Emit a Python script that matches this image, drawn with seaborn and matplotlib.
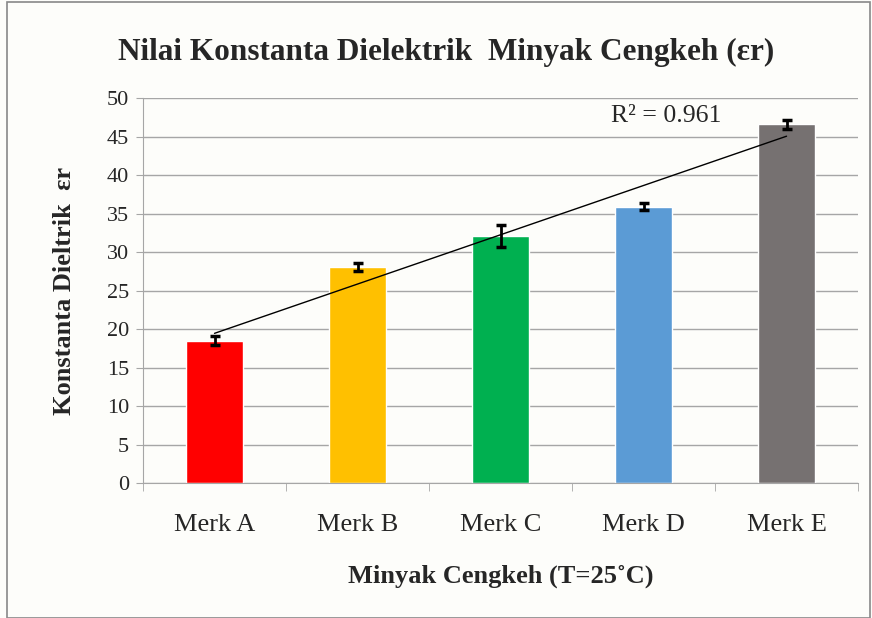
import numpy as np
import pandas as pd
import matplotlib
matplotlib.use("Agg")
import matplotlib.pyplot as plt
import seaborn as sns

# data
merk = ["Merk A", "Merk B", "Merk C", "Merk D", "Merk E"]
konstanta = [18.5, 28.1, 32.1, 35.9, 46.6]
err = [0.6, 0.5, 1.4, 0.5, 0.6]
colors = ["#FF0000", "#FFC000", "#00B050", "#5B9BD5", "#767171"]
r2_text = "R² = 0.961"

sns.set_style("white")
plt.rcParams["font.family"] = ["Liberation Serif", "DejaVu Serif"]

df = pd.DataFrame({"Merk": merk, "Konstanta": konstanta})

fig = plt.figure(figsize=(8.72, 6.18), dpi=100, facecolor="#FDFDFA")
ax = fig.add_axes([0.164, 0.2184, 0.82, 0.623])
ax.set_facecolor("#FDFDFA")

sns.barplot(data=df, x="Merk", y="Konstanta", hue="Merk", palette=colors,
            width=0.4, legend=False, ax=ax, zorder=2, saturation=1)
ax.errorbar(np.arange(len(merk)), konstanta, yerr=err, fmt="none",
            ecolor="black", elinewidth=2, capsize=3.7, capthick=2.5, zorder=3)

# linear trendline
xs = np.arange(len(merk))
slope, icpt = np.polyfit(xs, konstanta, 1)
ax.plot(xs, slope * xs + icpt, color="black", lw=1, zorder=4)
ax.text(3.16, 47.6, r2_text, fontsize=18.5, ha="center", va="center", zorder=5)

ax.set_ylim(0, 50)
ax.set_xlim(-0.5, 4.5)
ax.set_yticks(range(0, 51, 5))
ax.yaxis.grid(True, color="#A6A6A6", lw=1, zorder=0)
ax.set_axisbelow(True)
for s in ["top", "right"]:
    ax.spines[s].set_visible(False)
for s in ["left", "bottom"]:
    ax.spines[s].set_color("#A6A6A6")
ax.tick_params(axis="y", labelsize=16, left=True, length=5, color="#A6A6A6", pad=5)
ax.set_xticks(np.arange(len(merk)))
ax.set_xticklabels(merk)
ax.tick_params(axis="x", labelsize=19, bottom=False, pad=19)
# Excel-style category separators
ax.set_xticks(np.arange(-0.5, 5.0, 1.0), minor=True)
ax.tick_params(axis="x", which="minor", bottom=True, length=6, color="#A6A6A6")

ax.set_xlabel("Minyak Cengkeh (T=25˚C)", fontsize=19, fontweight="bold", labelpad=20)
ax.set_ylabel("Konstanta Dieltrik  εr", fontsize=19, fontweight="bold", labelpad=22)
fig.suptitle("Nilai Konstanta Dielektrik  Minyak Cengkeh (εr)", fontsize=22.5,
             fontweight="bold", x=0.512, y=0.938)

fig.patches.append(plt.Rectangle((0.008, 0.0), 0.99, 0.996, transform=fig.transFigure,
                                 fill=False, edgecolor="#888888", lw=1.2))

fig.savefig("out.png", dpi=100, facecolor=fig.get_facecolor())
